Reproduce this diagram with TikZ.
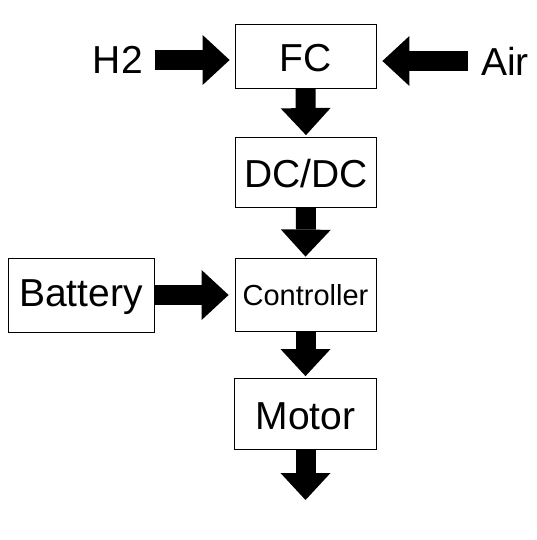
\documentclass[tikz,border=0pt]{standalone}
\usepackage{fontspec}
\setmainfont{Liberation Sans}
\usepackage{tikz}
\usetikzlibrary{arrows.meta,calc}
\definecolor{ink}{HTML}{000000}
\newcommand{\bigtxt}{\fontsize{39}{42}\selectfont}
\newcommand{\smalltxt}{\fontsize{29}{32}\selectfont}

\begin{document}
\begin{tikzpicture}[x=1pt,y=-1pt,font=\bigtxt,
  box/.style={draw=ink,line width=0.8pt,minimum width=141pt,minimum height=64pt,inner sep=0pt,text height=31pt},
  blk/.style={ink,line width=20pt,-{Triangle[width=50pt,length=27pt,line width=0pt]}}]
  \useasboundingbox (0,0) rectangle (537,540);
  % the chain, top to bottom
  \node[box] (fc) at (305.5,56) {FC};
  \node[box,minimum height=70pt] (dcdc) at (306,172) {DC/DC};
  \node[box,minimum height=73pt,font=\smalltxt,text height=23pt] (ctrl) at (305.5,294.5) {Controller};
  \node[box,minimum width=142pt,minimum height=71pt] (motor) at (305.5,414) {Motor};
  \node[box,minimum width=146pt,minimum height=74pt] (bat) at (81,295) {Battery};
  % inputs to the fuel cell
  \node[anchor=east,inner sep=0pt] (h2) at (143,60) {H2};
  \node[anchor=west,inner sep=0pt] (air) at (481,61) {Air};
  \coordinate (out) at (305.5,500);
  \draw[blk,shorten <=12pt,shorten >=5pt] (h2.east) -- (h2.east -| fc.west);
  \draw[blk,shorten <=13pt,shorten >=6pt] (air.west) -- (air.west -| fc.east);
  \draw[blk,shorten <=1pt,shorten >=6pt] (bat.east) -- (bat.east -| ctrl.west);
  \draw[blk,shorten >=1.5pt] (fc.south) -- (dcdc.north);
  \draw[blk,shorten >=1pt] (dcdc.south) -- (ctrl.north);
  \draw[blk,shorten >=2pt] (ctrl.south) -- (motor.north);
  \draw[blk] (motor.south) -- (out);
\end{tikzpicture}
\end{document}
